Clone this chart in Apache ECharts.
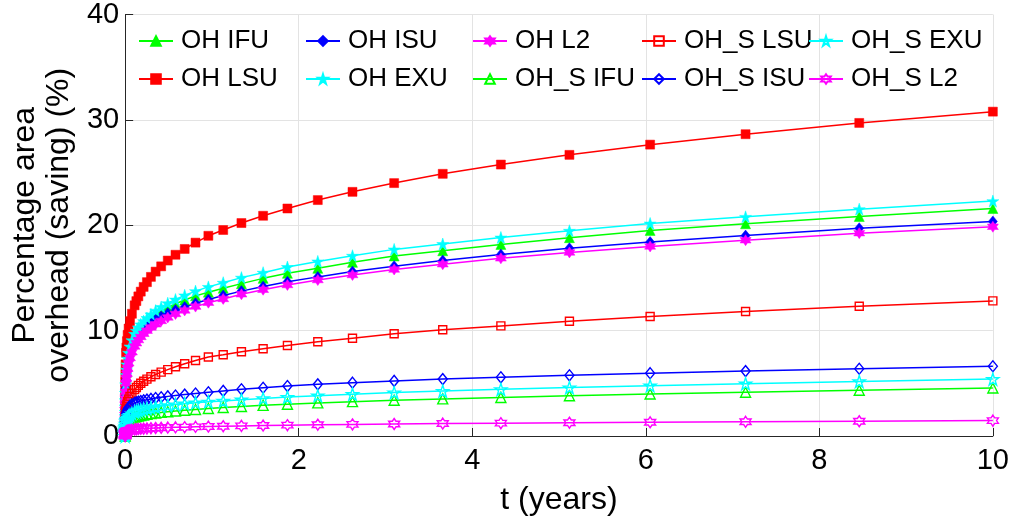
<!DOCTYPE html>
<html><head><meta charset="utf-8">
<script src="https://cdn.jsdelivr.net/npm/echarts@6/dist/echarts.min.js"></script>
<style>html,body{margin:0;padding:0;background:#fff}#c{width:1012px;height:522px}</style>
</head><body><div id="c"></div>
<script>
const t = [0, 1e-5, 2e-5, 4e-5, 8e-5, 1.5e-4, 3e-4, 6e-4, 0.00125, 0.0025, 0.005, 0.0104, 0.0146, 0.0204, 0.0285, 0.0398, 0.0557, 0.0778, 0.109, 0.129, 0.152, 0.180, 0.213, 0.251, 0.297, 0.351, 0.415, 0.491, 0.580, 0.686, 0.811, 0.959, 1.13, 1.34, 1.59, 1.87, 2.22, 2.62, 3.10, 3.66, 4.33, 5.12, 6.05, 7.15, 8.46, 10];

const ohIFU = [0, 0.75, 0.95, 1.2, 1.5, 1.8, 2.2, 2.7, 3.3, 3.95, 4.7, 5.6, 6.05, 6.55, 7.1, 7.65, 8.2, 8.8, 9.35, 9.65, 9.95, 10.25, 10.55, 10.85, 11.2, 11.5, 11.85, 12.2, 12.55, 12.9, 13.3, 13.65, 14.02, 14.46, 14.96, 15.44, 15.91, 16.48, 17.08, 17.58, 18.18, 18.82, 19.51, 20.14, 20.83, 21.59];
const ohLSU = [0, 1.7, 2.0, 2.4, 2.8, 3.3, 3.8, 4.4, 5.1, 5.9, 6.8, 7.9, 8.4, 9.0, 9.6, 10.2, 10.9, 11.6, 12.4, 12.8, 13.25, 13.7, 14.15, 14.6, 15.1, 15.6, 16.1, 16.65, 17.2, 17.75, 18.35, 19.0, 19.55, 20.21, 20.90, 21.59, 22.39, 23.17, 24.0, 24.88, 25.76, 26.68, 27.65, 28.64, 29.71, 30.78];
const ohISU = [0, 0.7, 0.9, 1.15, 1.45, 1.75, 2.1, 2.6, 3.15, 3.8, 4.5, 5.35, 5.8, 6.3, 6.8, 7.3, 7.85, 8.4, 8.95, 9.25, 9.55, 9.85, 10.15, 10.45, 10.75, 11.05, 11.35, 11.65, 11.95, 12.25, 12.6, 12.95, 13.33, 13.75, 14.18, 14.63, 15.10, 15.60, 16.12, 16.65, 17.22, 17.82, 18.40, 19.02, 19.72, 20.36];
const ohEXU = [0, 0.8, 1.0, 1.25, 1.55, 1.9, 2.3, 2.8, 3.4, 4.1, 4.9, 5.8, 6.3, 6.8, 7.35, 7.9, 8.5, 9.1, 9.7, 10.0, 10.3, 10.6, 10.9, 11.2, 11.55, 11.9, 12.25, 12.6, 12.95, 13.35, 13.75, 14.15, 14.55, 15.03, 15.50, 16.04, 16.57, 17.11, 17.71, 18.22, 18.84, 19.48, 20.17, 20.80, 21.53, 22.29];
const ohL2 = [0, 0.65, 0.85, 1.1, 1.35, 1.65, 2.0, 2.45, 2.95, 3.55, 4.2, 5.0, 5.45, 5.9, 6.4, 6.9, 7.4, 7.95, 8.5, 8.8, 9.1, 9.4, 9.7, 10.0, 10.3, 10.6, 10.92, 11.25, 11.58, 11.92, 12.28, 12.65, 13.01, 13.45, 13.88, 14.33, 14.80, 15.28, 15.80, 16.30, 16.86, 17.42, 17.99, 18.58, 19.25, 19.86];
const ohsIFU = [0, 0.21, 0.26, 0.31, 0.37, 0.44, 0.52, 0.61, 0.72, 0.84, 0.98, 1.15, 1.23, 1.32, 1.41, 1.5, 1.6, 1.7, 1.8, 1.85, 1.9, 1.95, 2.0, 2.06, 2.12, 2.18, 2.24, 2.3, 2.37, 2.44, 2.52, 2.61, 2.70, 2.80, 2.91, 3.02, 3.14, 3.26, 3.39, 3.52, 3.66, 3.82, 3.98, 4.15, 4.34, 4.55];
const ohsLSU = [0, 0.5, 0.62, 0.75, 0.9, 1.05, 1.25, 1.45, 1.7, 1.95, 2.25, 2.6, 2.8, 3.0, 3.25, 3.5, 3.75, 4.05, 4.4, 4.6, 4.8, 5.0, 5.2, 5.4, 5.62, 5.84, 6.06, 6.3, 6.57, 6.85, 7.17, 7.5, 7.71, 7.99, 8.28, 8.59, 8.94, 9.28, 9.70, 10.08, 10.45, 10.89, 11.34, 11.81, 12.31, 12.82];
const ohsISU = [0, 0.3, 0.4, 0.5, 0.6, 0.75, 0.9, 1.1, 1.3, 1.55, 1.8, 2.1, 2.25, 2.4, 2.55, 2.7, 2.85, 3.0, 3.14, 3.2, 3.26, 3.32, 3.38, 3.45, 3.52, 3.6, 3.68, 3.76, 3.84, 3.93, 4.03, 4.15, 4.28, 4.43, 4.58, 4.74, 4.90, 5.06, 5.23, 5.40, 5.57, 5.76, 5.96, 6.16, 6.38, 6.62];
const ohsEXU = [0, 0.22, 0.27, 0.33, 0.4, 0.48, 0.58, 0.69, 0.82, 0.97, 1.15, 1.37, 1.48, 1.6, 1.73, 1.86, 1.99, 2.13, 2.27, 2.34, 2.41, 2.48, 2.55, 2.62, 2.69, 2.76, 2.83, 2.91, 2.99, 3.07, 3.16, 3.25, 3.33, 3.45, 3.57, 3.70, 3.83, 3.97, 4.12, 4.27, 4.43, 4.60, 4.78, 4.97, 5.18, 5.40];
const ohsL2 = [0, 0.08, 0.1, 0.12, 0.14, 0.17, 0.2, 0.23, 0.27, 0.31, 0.36, 0.41, 0.44, 0.47, 0.5, 0.53, 0.56, 0.59, 0.62, 0.64, 0.66, 0.68, 0.70, 0.72, 0.74, 0.76, 0.78, 0.80, 0.82, 0.84, 0.87, 0.90, 0.93, 0.96, 0.99, 1.03, 1.07, 1.10, 1.14, 1.18, 1.22, 1.26, 1.30, 1.35, 1.40, 1.46];

const xTicks = [0, 2, 4, 6, 8, 10];
const yTicks = [0, 10, 20, 30, 40];

const PENTA = 'path://M0,-1L0.2245,-0.309L0.951,-0.309L0.363,0.118L0.588,0.809L0,0.382L-0.588,0.809L-0.363,0.118L-0.951,-0.309L-0.2245,-0.309Z';
const HEXA = 'path://M0,-1L0.289,-0.5L0.866,-0.5L0.577,0L0.866,0.5L0.289,0.5L0,1L-0.289,0.5L-0.866,0.5L-0.577,0L-0.866,-0.5L-0.289,-0.5Z';

const defs = [
  {name: 'OH IFU', data: ohIFU, color: '#00ff00', symbol: 'triangle', size: 10, filled: true},
  {name: 'OH LSU', data: ohLSU, color: '#ff0000', symbol: 'rect', size: 9, filled: true},
  {name: 'OH ISU', data: ohISU, color: '#0000ff', symbol: 'diamond', size: [9, 11], filled: true},
  {name: 'OH EXU', data: ohEXU, color: '#00ffff', symbol: PENTA, size: 12, filled: true},
  {name: 'OH L2', data: ohL2, color: '#ff00ff', symbol: HEXA, size: 11, filled: true},
  {name: 'OH_S IFU', data: ohsIFU, color: '#00ff00', symbol: 'triangle', size: 10, filled: false},
  {name: 'OH_S LSU', data: ohsLSU, color: '#ff0000', symbol: 'rect', size: 8, filled: false},
  {name: 'OH_S ISU', data: ohsISU, color: '#0000ff', symbol: 'diamond', size: [9, 11], filled: false},
  {name: 'OH_S EXU', data: ohsEXU, color: '#00ffff', symbol: PENTA, size: 12, filled: false},
  {name: 'OH_S L2', data: ohsL2, color: '#ff00ff', symbol: HEXA, size: 11, filled: false}
];

const FONT = '"Liberation Sans", Arial, Helvetica, sans-serif';
const series = defs.map(d => ({
  name: d.name,
  type: 'line',
  data: t.map((x, i) => [x, d.data[i]]),
  symbol: d.symbol,
  symbolSize: d.size,
  showAllSymbol: true,
  clip: false,
  lineStyle: {color: d.color, width: 1.5},
  itemStyle: d.filled ? {color: d.color, borderColor: d.color, borderWidth: 0.5}
                      : {color: 'rgba(255,255,255,0)', borderColor: d.color, borderWidth: 1.4},
  emphasis: {disabled: true}
}));

// legend: 5 columns x 2 rows (column-major order)
const colLeft = [138, 305, 472, 641, 808];
const rowTop = [27, 65];
const legends = defs.map((d, i) => ({
  data: [d.name],
  left: colLeft[Math.floor(i / 2)],
  top: rowTop[i % 2],
  itemWidth: 34,
  itemHeight: 12,
  padding: 0,
  selectedMode: false,
  textStyle: {fontFamily: FONT, fontSize: 26, color: '#000', lineHeight: 28, padding: [0, 0, 0, 3]}
}));

const chart = echarts.init(document.getElementById('c'), null, {renderer: 'canvas'});
chart.setOption({
  animation: false,
  backgroundColor: '#fff',
  legend: legends,
  grid: {left: 124, right: 19, top: 14, bottom: 86, containLabel: false},
  xAxis: {
    type: 'value', min: xTicks[0], max: xTicks[xTicks.length - 1], interval: 2,
    name: 't (years)', nameLocation: 'middle', nameGap: 48,
    nameTextStyle: {fontFamily: FONT, fontSize: 32, color: '#000'},
    axisLine: {show: true, lineStyle: {color: '#262626', width: 1}},
    axisTick: {show: true, inside: true, length: 8, lineStyle: {color: '#262626'}},
    axisLabel: {fontFamily: FONT, fontSize: 29, color: '#000', margin: 10,
      formatter: v => xTicks.includes(v) ? String(v) : ''},
    splitLine: {show: true, lineStyle: {color: '#e3e3e3', width: 1}}
  },
  yAxis: {
    type: 'value', min: yTicks[0], max: yTicks[yTicks.length - 1], interval: 10,
    name: 'Percentage area\noverhead (saving) (%)', nameLocation: 'middle', nameGap: 44,
    nameRotate: 90,
    nameTextStyle: {fontFamily: FONT, fontSize: 32, color: '#000', lineHeight: 34, align: 'center'},
    axisLine: {show: true, lineStyle: {color: '#262626', width: 1}},
    axisTick: {show: true, inside: true, length: 8, lineStyle: {color: '#262626'}},
    axisLabel: {fontFamily: FONT, fontSize: 29, color: '#000', margin: 6,
      formatter: v => yTicks.includes(v) ? String(v) : ''},
    splitLine: {show: true, lineStyle: {color: '#e3e3e3', width: 1}}
  },
  series: series
});
</script></body></html>
